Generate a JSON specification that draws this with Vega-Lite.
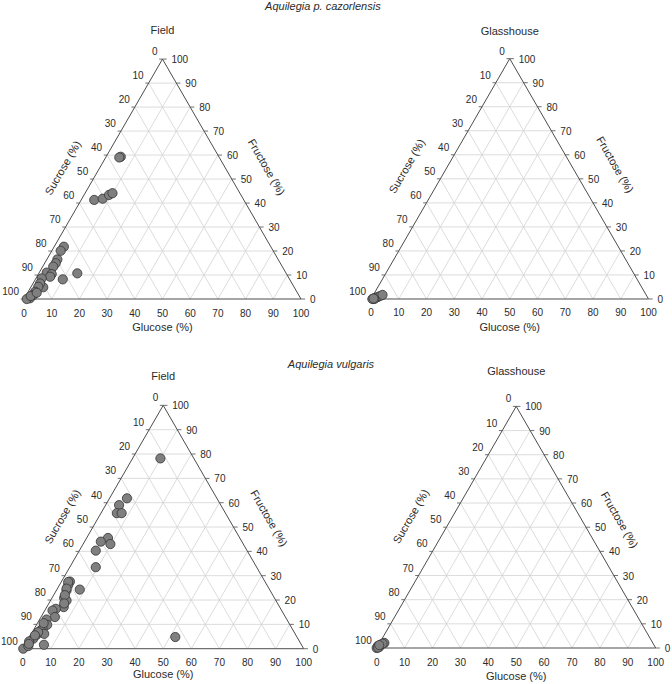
{
"$schema":"https://vega.github.io/schema/vega-lite/v6.json",
"padding":0,
"background":"white",
"config":{"view":{"stroke":null},"font":"Liberation Sans"},
"datasets":{
"grid":[{"d":"F","v":0},{"d":"F","v":10},{"d":"F","v":20},{"d":"F","v":30},{"d":"F","v":40},{"d":"F","v":50},{"d":"F","v":60},{"d":"F","v":70},{"d":"F","v":80},{"d":"F","v":90},
{"d":"G","v":0},{"d":"G","v":10},{"d":"G","v":20},{"d":"G","v":30},{"d":"G","v":40},{"d":"G","v":50},{"d":"G","v":60},{"d":"G","v":70},{"d":"G","v":80},{"d":"G","v":90},
{"d":"S","v":0},{"d":"S","v":10},{"d":"S","v":20},{"d":"S","v":30},{"d":"S","v":40},{"d":"S","v":50},{"d":"S","v":60},{"d":"S","v":70},{"d":"S","v":80},{"d":"S","v":90}],
"ticks":[{"v":0},{"v":10},{"v":20},{"v":30},{"v":40},{"v":50},{"v":60},{"v":70},{"v":80},{"v":90},{"v":100}],
"points":[
{"panel":"tl","glucose":5.3,"fructose":59.3},{"panel":"tl","glucose":4.9,"fructose":59.0},{"panel":"tl","glucose":4.7,"fructose":41.3},{"panel":"tl","glucose":7.5,"fructose":41.8},{"panel":"tl","glucose":9.0,"fructose":43.4},{"panel":"tl","glucose":9.9,"fructose":44.1},
{"panel":"tl","glucose":3.5,"fructose":21.8},{"panel":"tl","glucose":3.2,"fructose":20.1},{"panel":"tl","glucose":3.8,"fructose":16.5},{"panel":"tl","glucose":4.0,"fructose":14.9},{"panel":"tl","glucose":3.8,"fructose":13.5},{"panel":"tl","glucose":2.7,"fructose":11.0},{"panel":"tl","glucose":4.8,"fructose":10.4},{"panel":"tl","glucose":4.8,"fructose":9.3},
{"panel":"tl","glucose":13.9,"fructose":10.7},{"panel":"tl","glucose":9.9,"fructose":8.2},{"panel":"tl","glucose":4.5,"fructose":4.9},{"panel":"tl","glucose":2.1,"fructose":8.6},{"panel":"tl","glucose":2.55,"fructose":6.5},{"panel":"tl","glucose":2.6,"fructose":5.1},{"panel":"tl","glucose":2.5,"fructose":3.0},{"panel":"tl","glucose":2.55,"fructose":1.7},{"panel":"tl","glucose":2.0,"fructose":0.3},{"panel":"tl","glucose":1.0,"fructose":0},{"panel":"tl","glucose":1.8,"fructose":1.25},{"panel":"tl","glucose":3.3,"fructose":2.6},
{"panel":"tr","glucose":0.5,"fructose":0},{"panel":"tr","glucose":1,"fructose":0.3},{"panel":"tr","glucose":1.5,"fructose":0.5},{"panel":"tr","glucose":2,"fructose":0.8},{"panel":"tr","glucose":2.6,"fructose":1.2},{"panel":"tr","glucose":3.3,"fructose":1.7},{"panel":"tr","glucose":1.2,"fructose":0},{"panel":"tr","glucose":0.8,"fructose":0.2},
{"panel":"bl","glucose":9.9,"fructose":78.2},{"panel":"bl","glucose":6.2,"fructose":61.8},{"panel":"bl","glucose":4.8,"fructose":59.0},{"panel":"bl","glucose":5.65,"fructose":55.7},{"panel":"bl","glucose":7.35,"fructose":55.7},{"panel":"bl","glucose":7.6,"fructose":45.5},{"panel":"bl","glucose":5.8,"fructose":44.0},{"panel":"bl","glucose":9.7,"fructose":43.0},{"panel":"bl","glucose":5.85,"fructose":40.3},{"panel":"bl","glucose":9.25,"fructose":33.5},{"panel":"bl","glucose":8.15,"fructose":24.3},
{"panel":"bl","glucose":3.0,"fructose":27.6},{"panel":"bl","glucose":3.1,"fructose":26.2},{"panel":"bl","glucose":3.65,"fructose":23.9},{"panel":"bl","glucose":4.35,"fructose":20.8},{"panel":"bl","glucose":5.7,"fructose":19.8},{"panel":"bl","glucose":6.05,"fructose":17.1},{"panel":"bl","glucose":3.6,"fructose":16.4},{"panel":"bl","glucose":2.75,"fructose":15.7},{"panel":"bl","glucose":4.95,"fructose":13.0},{"panel":"bl","glucose":2.5,"fructose":12.0},{"panel":"bl","glucose":3.8,"fructose":9.8},{"panel":"bl","glucose":3.0,"fructose":8.2},{"panel":"bl","glucose":2.65,"fructose":7.5},{"panel":"bl","glucose":4.6,"fructose":6.1},{"panel":"bl","glucose":2.1,"fructose":5.7},{"panel":"bl","glucose":6.75,"fructose":1.6},{"panel":"bl","glucose":1.7,"fructose":4.1},{"panel":"bl","glucose":0.8,"fructose":3.0},{"panel":"bl","glucose":0.2,"fructose":0},{"panel":"bl","glucose":1.45,"fructose":1.1},{"panel":"bl","glucose":51.9,"fructose":4.8},{"panel":"bl","glucose":2.1,"fructose":6.8},{"panel":"bl","glucose":1.6,"fructose":5.5},{"panel":"bl","glucose":2.5,"fructose":27.4},{"panel":"bl","glucose":3.25,"fructose":24.7},{"panel":"bl","glucose":4.0,"fructose":22.0},{"panel":"bl","glucose":5.45,"fructose":18.6},{"panel":"bl","glucose":1.2,"fructose":2.0},{"panel":"bl","glucose":2.2,"fructose":10.5},
{"panel":"br","glucose":0,"fructose":0.8},{"panel":"br","glucose":0.85,"fructose":1.4},{"panel":"br","glucose":1.7,"fructose":2.1},{"panel":"br","glucose":0.7,"fructose":0.4},{"panel":"br","glucose":0,"fructose":0},{"panel":"br","glucose":0.4,"fructose":0.2},{"panel":"br","glucose":1.2,"fructose":1.8},{"panel":"br","glucose":0.3,"fructose":1.2}
]
},
"columns":2,
"spacing":0,
"bounds":"flush",
"concat":[
{"width":336,"height":342,
"encoding":{"x":{"field":"x","type":"quantitative","axis":null,"scale":{"domain":[-8.66,112.64],"nice":false,"zero":false}},"y":{"field":"y","type":"quantitative","axis":null,"scale":{"domain":[-15.52,107.94],"nice":false,"zero":false}}},
"layer":[
{"data":{"name":"grid"},"transform":[{"filter":"datum.v > 0"},{"calculate":"datum.d == 'F' ? datum.v / 2 : datum.d == 'G' ? datum.v : 100 - datum.v","as":"x"},{"calculate":"datum.d == 'F' ? datum.v * 0.8660254 : 0","as":"y"},{"calculate":"datum.d == 'F' ? 100 - datum.v / 2 : datum.d == 'G' ? 50 + datum.v / 2 : (100 - datum.v) / 2","as":"x2"},{"calculate":"datum.d == 'F' ? datum.v * 0.8660254 : (100 - datum.v) * 0.8660254","as":"y2"}],"mark":{"type":"rule","color":"#d3d3d3","strokeWidth":0.8},"encoding":{"x2":{"field":"x2"},"y2":{"field":"y2"}}},
{"data":{"name":"grid"},"transform":[{"filter":"datum.v == 0"},{"calculate":"datum.d == 'F' ? datum.v / 2 : datum.d == 'G' ? datum.v : 100 - datum.v","as":"x"},{"calculate":"datum.d == 'F' ? datum.v * 0.8660254 : 0","as":"y"},{"calculate":"datum.d == 'F' ? 100 - datum.v / 2 : datum.d == 'G' ? 50 + datum.v / 2 : (100 - datum.v) / 2","as":"x2"},{"calculate":"datum.d == 'F' ? datum.v * 0.8660254 : (100 - datum.v) * 0.8660254","as":"y2"}],"mark":{"type":"rule","color":"#4d4d4d","strokeWidth":1},"encoding":{"x2":{"field":"x2"},"y2":{"field":"y2"}}},
{"data":{"name":"ticks"},"transform":[{"calculate":"(100 - datum.v) / 2","as":"x"},{"calculate":"(100 - datum.v) * 0.8660254","as":"y"},{"calculate":"datum.x - 1.2","as":"x2"}],"mark":{"type":"rule","color":"#4d4d4d","strokeWidth":0.8},"encoding":{"x2":{"field":"x2"},"y2":{"field":"y"}}},
{"data":{"name":"ticks"},"transform":[{"calculate":"100 - datum.v / 2","as":"x"},{"calculate":"datum.v * 0.8660254","as":"y"},{"calculate":"datum.x + 1.5","as":"x2"}],"mark":{"type":"rule","color":"#4d4d4d","strokeWidth":0.8},"encoding":{"x2":{"field":"x2"},"y2":{"field":"y"}}},
{"data":{"name":"ticks"},"transform":[{"calculate":"datum.v","as":"x"},{"calculate":"0","as":"y"}],"mark":{"type":"text","fontSize":10,"color":"#2b2b2b","align":"center","baseline":"middle","dy":14.5},"encoding":{"text":{"field":"v","type":"nominal"}}},
{"data":{"name":"ticks"},"transform":[{"calculate":"(100 - datum.v) / 2","as":"x"},{"calculate":"(100 - datum.v) * 0.8660254","as":"y"}],"mark":{"type":"text","fontSize":10,"color":"#2b2b2b","align":"right","baseline":"middle","dx":-5,"dy":-7},"encoding":{"text":{"field":"v","type":"nominal"}}},
{"data":{"name":"ticks"},"transform":[{"calculate":"100 - datum.v / 2","as":"x"},{"calculate":"datum.v * 0.8660254","as":"y"}],"mark":{"type":"text","fontSize":10,"color":"#2b2b2b","align":"left","baseline":"middle","dx":9,"dy":1},"encoding":{"text":{"field":"v","type":"nominal"}}},
{"data":{"name":"points"},"transform":[{"filter":"datum.panel == 'tl'"},{"calculate":"datum.glucose + datum.fructose / 2","as":"x"},{"calculate":"datum.fructose * 0.8660254","as":"y"}],"mark":{"type":"circle","size":85,"fill":"#7f7f7f","stroke":"#333333","strokeWidth":0.8,"opacity":1}},
{"data":{"values":[{"label":"Glucose (%)"}]},"transform":[{"calculate":"50","as":"x"},{"calculate":"-10.5","as":"y"}],"mark":{"type":"text","fontSize":11,"color":"#2b2b2b","baseline":"middle"},"encoding":{"text":{"field":"label"}}},
{"data":{"values":[{"label":"Sucrose (%)"}]},"transform":[{"calculate":"14.3","as":"x"},{"calculate":"47.2","as":"y"}],"mark":{"type":"text","fontSize":11,"color":"#2b2b2b","baseline":"middle","angle":300},"encoding":{"text":{"field":"label"}}},
{"data":{"values":[{"label":"Fructose (%)"}]},"transform":[{"calculate":"87.3","as":"x"},{"calculate":"47.5","as":"y"}],"mark":{"type":"text","fontSize":11,"color":"#2b2b2b","baseline":"middle","angle":60},"encoding":{"text":{"field":"label"}}},
{"data":{"values":[{"label":"Field"}]},"transform":[{"calculate":"50","as":"x"},{"calculate":"96.8","as":"y"}],"mark":{"type":"text","fontSize":11,"color":"#2b2b2b","baseline":"middle"},"encoding":{"text":{"field":"label"}}},
{"data":{"values":[{"label":"Aquilegia p. cazorlensis"}]},"transform":[{"calculate":"107.9","as":"x"},{"calculate":"105.4","as":"y"}],"mark":{"type":"text","fontSize":11,"fontStyle":"italic","color":"#2b2b2b","baseline":"middle"},"encoding":{"text":{"field":"label"}}}
]},
{"width":336,"height":342,
"encoding":{"x":{"field":"x","type":"quantitative","axis":null,"scale":{"domain":[-12.61,108.47],"nice":false,"zero":false}},"y":{"field":"y","type":"quantitative","axis":null,"scale":{"domain":[-15.5,107.75],"nice":false,"zero":false}}},
"layer":[
{"data":{"name":"grid"},"transform":[{"filter":"datum.v > 0"},{"calculate":"datum.d == 'F' ? datum.v / 2 : datum.d == 'G' ? datum.v : 100 - datum.v","as":"x"},{"calculate":"datum.d == 'F' ? datum.v * 0.8660254 : 0","as":"y"},{"calculate":"datum.d == 'F' ? 100 - datum.v / 2 : datum.d == 'G' ? 50 + datum.v / 2 : (100 - datum.v) / 2","as":"x2"},{"calculate":"datum.d == 'F' ? datum.v * 0.8660254 : (100 - datum.v) * 0.8660254","as":"y2"}],"mark":{"type":"rule","color":"#d3d3d3","strokeWidth":0.8},"encoding":{"x2":{"field":"x2"},"y2":{"field":"y2"}}},
{"data":{"name":"grid"},"transform":[{"filter":"datum.v == 0"},{"calculate":"datum.d == 'F' ? datum.v / 2 : datum.d == 'G' ? datum.v : 100 - datum.v","as":"x"},{"calculate":"datum.d == 'F' ? datum.v * 0.8660254 : 0","as":"y"},{"calculate":"datum.d == 'F' ? 100 - datum.v / 2 : datum.d == 'G' ? 50 + datum.v / 2 : (100 - datum.v) / 2","as":"x2"},{"calculate":"datum.d == 'F' ? datum.v * 0.8660254 : (100 - datum.v) * 0.8660254","as":"y2"}],"mark":{"type":"rule","color":"#4d4d4d","strokeWidth":1},"encoding":{"x2":{"field":"x2"},"y2":{"field":"y2"}}},
{"data":{"name":"ticks"},"transform":[{"calculate":"(100 - datum.v) / 2","as":"x"},{"calculate":"(100 - datum.v) * 0.8660254","as":"y"},{"calculate":"datum.x - 1.2","as":"x2"}],"mark":{"type":"rule","color":"#4d4d4d","strokeWidth":0.8},"encoding":{"x2":{"field":"x2"},"y2":{"field":"y"}}},
{"data":{"name":"ticks"},"transform":[{"calculate":"100 - datum.v / 2","as":"x"},{"calculate":"datum.v * 0.8660254","as":"y"},{"calculate":"datum.x + 1.5","as":"x2"}],"mark":{"type":"rule","color":"#4d4d4d","strokeWidth":0.8},"encoding":{"x2":{"field":"x2"},"y2":{"field":"y"}}},
{"data":{"name":"ticks"},"transform":[{"calculate":"datum.v","as":"x"},{"calculate":"0","as":"y"}],"mark":{"type":"text","fontSize":10,"color":"#2b2b2b","align":"center","baseline":"middle","dy":14.5},"encoding":{"text":{"field":"v","type":"nominal"}}},
{"data":{"name":"ticks"},"transform":[{"calculate":"(100 - datum.v) / 2","as":"x"},{"calculate":"(100 - datum.v) * 0.8660254","as":"y"}],"mark":{"type":"text","fontSize":10,"color":"#2b2b2b","align":"right","baseline":"middle","dx":-5,"dy":-7},"encoding":{"text":{"field":"v","type":"nominal"}}},
{"data":{"name":"ticks"},"transform":[{"calculate":"100 - datum.v / 2","as":"x"},{"calculate":"datum.v * 0.8660254","as":"y"}],"mark":{"type":"text","fontSize":10,"color":"#2b2b2b","align":"left","baseline":"middle","dx":9,"dy":1},"encoding":{"text":{"field":"v","type":"nominal"}}},
{"data":{"name":"points"},"transform":[{"filter":"datum.panel == 'tr'"},{"calculate":"datum.glucose + datum.fructose / 2","as":"x"},{"calculate":"datum.fructose * 0.8660254","as":"y"}],"mark":{"type":"circle","size":85,"fill":"#7f7f7f","stroke":"#333333","strokeWidth":0.8,"opacity":1}},
{"data":{"values":[{"label":"Glucose (%)"}]},"transform":[{"calculate":"50","as":"x"},{"calculate":"-10.4","as":"y"}],"mark":{"type":"text","fontSize":11,"color":"#2b2b2b","baseline":"middle"},"encoding":{"text":{"field":"label"}}},
{"data":{"values":[{"label":"Sucrose (%)"}]},"transform":[{"calculate":"13.2","as":"x"},{"calculate":"47.7","as":"y"}],"mark":{"type":"text","fontSize":11,"color":"#2b2b2b","baseline":"middle","angle":300},"encoding":{"text":{"field":"label"}}},
{"data":{"values":[{"label":"Fructose (%)"}]},"transform":[{"calculate":"87.7","as":"x"},{"calculate":"48.3","as":"y"}],"mark":{"type":"text","fontSize":11,"color":"#2b2b2b","baseline":"middle","angle":60},"encoding":{"text":{"field":"label"}}},
{"data":{"values":[{"label":"Glasshouse"}]},"transform":[{"calculate":"50","as":"x"},{"calculate":"96.2","as":"y"}],"mark":{"type":"text","fontSize":11,"color":"#2b2b2b","baseline":"middle"},"encoding":{"text":{"field":"label"}}}
]},
{"width":336,"height":342,
"encoding":{"x":{"field":"x","type":"quantitative","axis":null,"scale":{"domain":[-8.08,111.49],"nice":false,"zero":false}},"y":{"field":"y","type":"quantitative","axis":null,"scale":{"domain":[-12.56,109.15],"nice":false,"zero":false}}},
"layer":[
{"data":{"name":"grid"},"transform":[{"filter":"datum.v > 0"},{"calculate":"datum.d == 'F' ? datum.v / 2 : datum.d == 'G' ? datum.v : 100 - datum.v","as":"x"},{"calculate":"datum.d == 'F' ? datum.v * 0.8660254 : 0","as":"y"},{"calculate":"datum.d == 'F' ? 100 - datum.v / 2 : datum.d == 'G' ? 50 + datum.v / 2 : (100 - datum.v) / 2","as":"x2"},{"calculate":"datum.d == 'F' ? datum.v * 0.8660254 : (100 - datum.v) * 0.8660254","as":"y2"}],"mark":{"type":"rule","color":"#d3d3d3","strokeWidth":0.8},"encoding":{"x2":{"field":"x2"},"y2":{"field":"y2"}}},
{"data":{"name":"grid"},"transform":[{"filter":"datum.v == 0"},{"calculate":"datum.d == 'F' ? datum.v / 2 : datum.d == 'G' ? datum.v : 100 - datum.v","as":"x"},{"calculate":"datum.d == 'F' ? datum.v * 0.8660254 : 0","as":"y"},{"calculate":"datum.d == 'F' ? 100 - datum.v / 2 : datum.d == 'G' ? 50 + datum.v / 2 : (100 - datum.v) / 2","as":"x2"},{"calculate":"datum.d == 'F' ? datum.v * 0.8660254 : (100 - datum.v) * 0.8660254","as":"y2"}],"mark":{"type":"rule","color":"#4d4d4d","strokeWidth":1},"encoding":{"x2":{"field":"x2"},"y2":{"field":"y2"}}},
{"data":{"name":"ticks"},"transform":[{"calculate":"(100 - datum.v) / 2","as":"x"},{"calculate":"(100 - datum.v) * 0.8660254","as":"y"},{"calculate":"datum.x - 1.2","as":"x2"}],"mark":{"type":"rule","color":"#4d4d4d","strokeWidth":0.8},"encoding":{"x2":{"field":"x2"},"y2":{"field":"y"}}},
{"data":{"name":"ticks"},"transform":[{"calculate":"100 - datum.v / 2","as":"x"},{"calculate":"datum.v * 0.8660254","as":"y"},{"calculate":"datum.x + 1.5","as":"x2"}],"mark":{"type":"rule","color":"#4d4d4d","strokeWidth":0.8},"encoding":{"x2":{"field":"x2"},"y2":{"field":"y"}}},
{"data":{"name":"ticks"},"transform":[{"calculate":"datum.v","as":"x"},{"calculate":"0","as":"y"}],"mark":{"type":"text","fontSize":10,"color":"#2b2b2b","align":"center","baseline":"middle","dy":14.5},"encoding":{"text":{"field":"v","type":"nominal"}}},
{"data":{"name":"ticks"},"transform":[{"calculate":"(100 - datum.v) / 2","as":"x"},{"calculate":"(100 - datum.v) * 0.8660254","as":"y"}],"mark":{"type":"text","fontSize":10,"color":"#2b2b2b","align":"right","baseline":"middle","dx":-5,"dy":-7},"encoding":{"text":{"field":"v","type":"nominal"}}},
{"data":{"name":"ticks"},"transform":[{"calculate":"100 - datum.v / 2","as":"x"},{"calculate":"datum.v * 0.8660254","as":"y"}],"mark":{"type":"text","fontSize":10,"color":"#2b2b2b","align":"left","baseline":"middle","dx":9,"dy":1},"encoding":{"text":{"field":"v","type":"nominal"}}},
{"data":{"name":"points"},"transform":[{"filter":"datum.panel == 'bl'"},{"calculate":"datum.glucose + datum.fructose / 2","as":"x"},{"calculate":"datum.fructose * 0.8660254","as":"y"}],"mark":{"type":"circle","size":85,"fill":"#7f7f7f","stroke":"#333333","strokeWidth":0.8,"opacity":1}},
{"data":{"values":[{"label":"Glucose (%)"}]},"transform":[{"calculate":"50","as":"x"},{"calculate":"-9.5","as":"y"}],"mark":{"type":"text","fontSize":11,"color":"#2b2b2b","baseline":"middle"},"encoding":{"text":{"field":"label"}}},
{"data":{"values":[{"label":"Sucrose (%)"}]},"transform":[{"calculate":"14.4","as":"x"},{"calculate":"46.9","as":"y"}],"mark":{"type":"text","fontSize":11,"color":"#2b2b2b","baseline":"middle","angle":300},"encoding":{"text":{"field":"label"}}},
{"data":{"values":[{"label":"Fructose (%)"}]},"transform":[{"calculate":"87.4","as":"x"},{"calculate":"46.3","as":"y"}],"mark":{"type":"text","fontSize":11,"color":"#2b2b2b","baseline":"middle","angle":60},"encoding":{"text":{"field":"label"}}},
{"data":{"values":[{"label":"Field"}]},"transform":[{"calculate":"50","as":"x"},{"calculate":"96.7","as":"y"}],"mark":{"type":"text","fontSize":11,"color":"#2b2b2b","baseline":"middle"},"encoding":{"text":{"field":"label"}}},
{"data":{"values":[{"label":"Aquilegia vulgaris"}]},"transform":[{"calculate":"109.7","as":"x"},{"calculate":"100.9","as":"y"}],"mark":{"type":"text","fontSize":11,"fontStyle":"italic","color":"#2b2b2b","baseline":"middle"},"encoding":{"text":{"field":"label"}}}
]},
{"width":336,"height":342,
"encoding":{"x":{"field":"x","type":"quantitative","axis":null,"scale":{"domain":[-14.59,105.84],"nice":false,"zero":false}},"y":{"field":"y","type":"quantitative","axis":null,"scale":{"domain":[-12.9,109.68],"nice":false,"zero":false}}},
"layer":[
{"data":{"name":"grid"},"transform":[{"filter":"datum.v > 0"},{"calculate":"datum.d == 'F' ? datum.v / 2 : datum.d == 'G' ? datum.v : 100 - datum.v","as":"x"},{"calculate":"datum.d == 'F' ? datum.v * 0.8660254 : 0","as":"y"},{"calculate":"datum.d == 'F' ? 100 - datum.v / 2 : datum.d == 'G' ? 50 + datum.v / 2 : (100 - datum.v) / 2","as":"x2"},{"calculate":"datum.d == 'F' ? datum.v * 0.8660254 : (100 - datum.v) * 0.8660254","as":"y2"}],"mark":{"type":"rule","color":"#d3d3d3","strokeWidth":0.8},"encoding":{"x2":{"field":"x2"},"y2":{"field":"y2"}}},
{"data":{"name":"grid"},"transform":[{"filter":"datum.v == 0"},{"calculate":"datum.d == 'F' ? datum.v / 2 : datum.d == 'G' ? datum.v : 100 - datum.v","as":"x"},{"calculate":"datum.d == 'F' ? datum.v * 0.8660254 : 0","as":"y"},{"calculate":"datum.d == 'F' ? 100 - datum.v / 2 : datum.d == 'G' ? 50 + datum.v / 2 : (100 - datum.v) / 2","as":"x2"},{"calculate":"datum.d == 'F' ? datum.v * 0.8660254 : (100 - datum.v) * 0.8660254","as":"y2"}],"mark":{"type":"rule","color":"#4d4d4d","strokeWidth":1},"encoding":{"x2":{"field":"x2"},"y2":{"field":"y2"}}},
{"data":{"name":"ticks"},"transform":[{"calculate":"(100 - datum.v) / 2","as":"x"},{"calculate":"(100 - datum.v) * 0.8660254","as":"y"},{"calculate":"datum.x - 1.2","as":"x2"}],"mark":{"type":"rule","color":"#4d4d4d","strokeWidth":0.8},"encoding":{"x2":{"field":"x2"},"y2":{"field":"y"}}},
{"data":{"name":"ticks"},"transform":[{"calculate":"100 - datum.v / 2","as":"x"},{"calculate":"datum.v * 0.8660254","as":"y"},{"calculate":"datum.x + 1.5","as":"x2"}],"mark":{"type":"rule","color":"#4d4d4d","strokeWidth":0.8},"encoding":{"x2":{"field":"x2"},"y2":{"field":"y"}}},
{"data":{"name":"ticks"},"transform":[{"calculate":"datum.v","as":"x"},{"calculate":"0","as":"y"}],"mark":{"type":"text","fontSize":10,"color":"#2b2b2b","align":"center","baseline":"middle","dy":14.5},"encoding":{"text":{"field":"v","type":"nominal"}}},
{"data":{"name":"ticks"},"transform":[{"calculate":"(100 - datum.v) / 2","as":"x"},{"calculate":"(100 - datum.v) * 0.8660254","as":"y"}],"mark":{"type":"text","fontSize":10,"color":"#2b2b2b","align":"right","baseline":"middle","dx":-5,"dy":-7},"encoding":{"text":{"field":"v","type":"nominal"}}},
{"data":{"name":"ticks"},"transform":[{"calculate":"100 - datum.v / 2","as":"x"},{"calculate":"datum.v * 0.8660254","as":"y"}],"mark":{"type":"text","fontSize":10,"color":"#2b2b2b","align":"left","baseline":"middle","dx":9,"dy":1},"encoding":{"text":{"field":"v","type":"nominal"}}},
{"data":{"name":"points"},"transform":[{"filter":"datum.panel == 'br'"},{"calculate":"datum.glucose + datum.fructose / 2","as":"x"},{"calculate":"datum.fructose * 0.8660254","as":"y"}],"mark":{"type":"circle","size":85,"fill":"#7f7f7f","stroke":"#333333","strokeWidth":0.8,"opacity":1}},
{"data":{"values":[{"label":"Glucose (%)"}]},"transform":[{"calculate":"50","as":"x"},{"calculate":"-10.4","as":"y"}],"mark":{"type":"text","fontSize":11,"color":"#2b2b2b","baseline":"middle"},"encoding":{"text":{"field":"label"}}},
{"data":{"values":[{"label":"Sucrose (%)"}]},"transform":[{"calculate":"12.5","as":"x"},{"calculate":"47.0","as":"y"}],"mark":{"type":"text","fontSize":11,"color":"#2b2b2b","baseline":"middle","angle":300},"encoding":{"text":{"field":"label"}}},
{"data":{"values":[{"label":"Fructose (%)"}]},"transform":[{"calculate":"86.8","as":"x"},{"calculate":"45.8","as":"y"}],"mark":{"type":"text","fontSize":11,"color":"#2b2b2b","baseline":"middle","angle":60},"encoding":{"text":{"field":"label"}}},
{"data":{"values":[{"label":"Glasshouse"}]},"transform":[{"calculate":"50","as":"x"},{"calculate":"98.9","as":"y"}],"mark":{"type":"text","fontSize":11,"color":"#2b2b2b","baseline":"middle"},"encoding":{"text":{"field":"label"}}}
]}
]
}
